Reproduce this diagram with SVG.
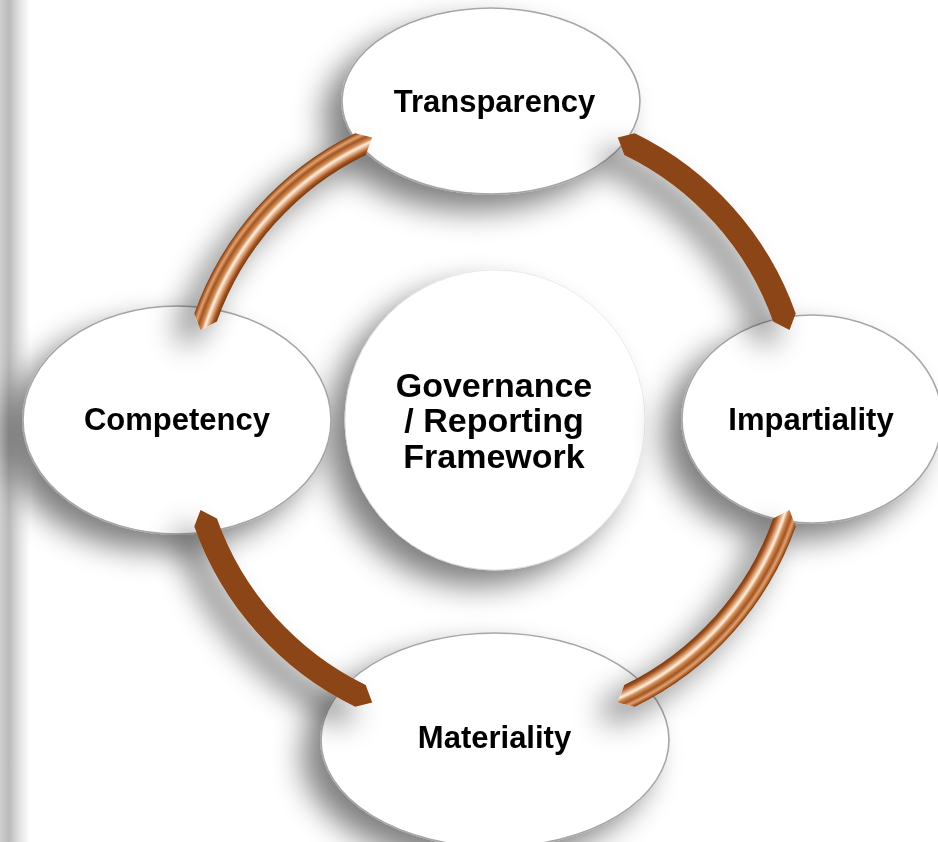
<svg xmlns="http://www.w3.org/2000/svg" width="938" height="842" viewBox="0 0 938 842">
<defs>
<style>
.node{fill:#ffffff;stroke:#a6a6a6;stroke-width:1.6}
.hub{fill:#ffffff;stroke:#dcdcdc;stroke-width:0.6}
.lbl{font-family:"Liberation Sans",Arial,sans-serif;font-weight:bold;font-size:31px;fill:#000000;text-anchor:middle}
.hubl{font-family:"Liberation Sans",Arial,sans-serif;font-weight:bold;font-size:34px;fill:#000000;text-anchor:middle}
.solid{fill:#8b4513}
.copper{fill:url(#cu)}
</style>
<filter id="sh" x="-50%" y="-50%" width="200%" height="200%">
<feGaussianBlur in="SourceAlpha" stdDeviation="15"/>
<feOffset dx="-18" dy="16"/>
<feComponentTransfer><feFuncA type="linear" slope="0.5"/></feComponentTransfer>
<feMerge><feMergeNode/><feMergeNode in="SourceGraphic"/></feMerge>
</filter>
<linearGradient id="edge" x1="0" y1="0" x2="1" y2="0">
<stop offset="0" stop-color="#cfcfcf"/>
<stop offset="0.3" stop-color="#bababa"/>
<stop offset="0.65" stop-color="#e2e2e2"/>
<stop offset="1" stop-color="#ffffff"/>
</linearGradient>
<radialGradient id="cu" gradientUnits="userSpaceOnUse" cx="0" cy="0" r="319">
<stop offset="0" stop-color="#8b4513"/>
<stop offset="0.9248" stop-color="#7a3a10"/>
<stop offset="0.9338" stop-color="#a0521f"/>
<stop offset="0.9474" stop-color="#e9b58c"/>
<stop offset="0.9549" stop-color="#fff0e0"/>
<stop offset="0.9639" stop-color="#d08a54"/>
<stop offset="0.9759" stop-color="#a35520"/>
<stop offset="0.9865" stop-color="#e0a070"/>
<stop offset="0.994" stop-color="#b0652f"/>
<stop offset="1" stop-color="#7a3a10"/>
</radialGradient>
<path id="arc" d="M139.8,-286.7 A319,319 0 0 1 300.7,-106.5 L294.5,-90 L278.1,-98.5 A295,295 0 0 0 129.3,-265.1 L122.8,-282.5 Z"/>
</defs>
<rect x="0" y="0" width="938" height="842" fill="#ffffff"/>
<rect x="0" y="0" width="30" height="842" fill="url(#edge)"/>
<g id="hub" filter="url(#sh)">
<circle class="hub" cx="495" cy="420" r="150"/>
</g>
<g id="transparency" filter="url(#sh)">
<ellipse class="node" cx="491" cy="101" rx="149" ry="93"/>
</g>
<g id="competency" filter="url(#sh)">
<ellipse class="node" cx="177" cy="420" rx="154" ry="114"/>
</g>
<g id="impartiality" filter="url(#sh)">
<ellipse class="node" cx="812" cy="419" rx="130" ry="104"/>
</g>
<g id="materiality" filter="url(#sh)">
<ellipse class="node" cx="495" cy="740" rx="174" ry="107"/>
</g>
<g id="connectors" transform="translate(495,420)" filter="url(#sh)">
<use href="#arc" class="solid"/>
<use href="#arc" class="copper" transform="scale(-1,1)"/>
<use href="#arc" class="copper" transform="scale(1,-1)"/>
<use href="#arc" class="solid" transform="scale(-1,-1)"/>
</g>
<g id="labels">
<text class="lbl" x="494.5" y="112">Transparency</text>
<text class="lbl" x="177" y="430">Competency</text>
<text class="lbl" x="811" y="430">Impartiality</text>
<text class="lbl" x="494.5" y="748">Materiality</text>
<text class="hubl" x="494" y="397">Governance</text>
<text class="hubl" x="494" y="432">/ Reporting</text>
<text class="hubl" x="494" y="468">Framework</text>
</g>
</svg>
